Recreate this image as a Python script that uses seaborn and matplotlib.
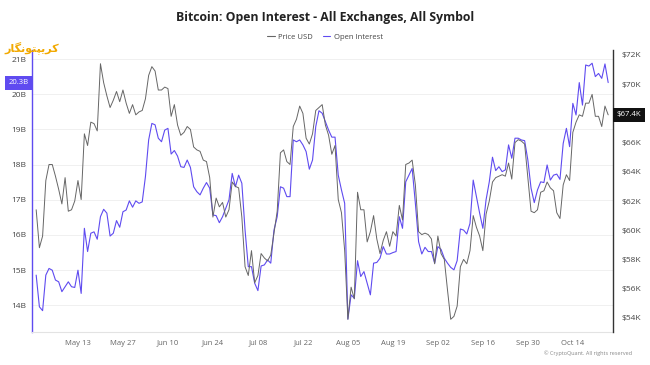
import pandas as pd
import matplotlib
matplotlib.use("Agg")
import matplotlib.pyplot as plt
from matplotlib.lines import Line2D
import seaborn as sns

# daily values from 2024-04-30
start_date = "2024-04-30"

price_usd_k = [
    61.4, 58.8, 59.6, 63.4, 64.5, 64.5, 63.7, 62.8, 61.8, 63.6,
    61.3, 61.4, 62.0, 63.4, 62.1, 66.6, 65.8, 67.4, 67.3, 66.8,
    71.4, 70.1, 69.2, 68.4, 68.9, 69.5, 68.8, 69.6, 68.7, 68.0,
    68.6, 67.9, 68.1, 68.2, 69.0, 70.6, 71.2, 70.9, 69.6, 69.6,
    69.8, 69.7, 67.8, 68.6, 67.2, 66.5, 66.7, 67.1, 66.9, 65.7,
    65.5, 65.4, 64.8, 64.7, 63.6, 60.9, 62.2, 61.6, 61.9, 60.9,
    61.4, 63.3, 63.0, 62.9, 60.9, 57.5, 56.9, 58.6, 56.4, 56.9,
    58.4, 58.1, 57.9, 58.3, 59.8, 61.3, 65.3, 65.5, 64.7, 64.5,
    67.1, 67.6, 68.5, 68.0, 66.3, 65.9, 66.6, 68.2, 68.4, 68.6,
    67.2, 66.5, 65.2, 65.8, 62.1, 61.2, 58.6, 53.9, 56.1, 55.3,
    62.6, 61.4, 61.4, 59.2, 59.9, 61.0, 59.4, 58.4, 59.3, 59.9,
    58.9, 59.9, 59.6, 61.7, 60.7, 64.5, 64.6, 64.8, 63.1, 59.9,
    59.7, 59.8, 59.7, 59.4, 57.7, 59.6, 58.4, 58.0, 55.9, 53.9,
    54.1, 54.8, 57.5, 58.0, 57.7, 58.6, 61.0, 60.2, 59.6, 58.6,
    61.1, 62.0, 63.3, 63.6, 63.7, 63.8, 63.7, 64.6, 63.5, 66.0,
    66.2, 66.1, 65.9, 63.6, 61.3, 61.2, 61.4, 62.6, 62.7, 63.3,
    62.9, 62.7, 61.2, 60.8, 63.1, 63.8, 63.4, 66.7, 67.4, 67.9,
    67.8, 68.7, 68.7, 69.3, 67.8, 67.8, 67.1, 68.5, 67.9,
]

open_interest_b = [
    14.86, 13.96, 13.85, 14.86, 15.05, 15.00, 14.72, 14.67, 14.39, 14.53,
    14.67, 14.53, 14.51, 15.00, 14.34, 16.19, 15.53, 16.05, 16.09, 15.88,
    16.52, 16.73, 16.62, 15.97, 16.05, 16.41, 16.22, 16.66, 16.71, 16.97,
    16.79, 16.97, 16.90, 16.94, 17.66, 18.70, 19.17, 19.13, 18.75, 18.65,
    18.98, 19.03, 18.30, 18.40, 18.24, 17.94, 17.92, 18.13, 17.92, 17.37,
    17.23, 17.14, 17.33, 17.49, 17.33, 16.57, 16.55, 16.35, 16.52, 16.76,
    17.00, 17.75, 17.37, 17.70, 17.47, 16.14, 15.10, 15.10, 14.63, 14.42,
    15.12, 15.15, 15.29, 15.20, 16.14, 16.52, 17.37, 17.33, 17.09, 17.09,
    18.70, 18.65, 18.70, 18.56, 18.37, 17.87, 18.13, 19.08, 19.53, 19.46,
    19.22, 18.98, 18.78, 18.78, 17.70, 17.28, 16.90, 13.61, 14.30, 14.20,
    15.27, 14.82, 14.96, 14.63, 14.30, 15.20, 15.22, 15.34, 15.67, 15.46,
    15.46, 15.50, 15.53, 16.52, 16.19, 17.51, 17.70, 17.89, 16.90, 15.81,
    15.46, 15.65, 15.53, 15.53, 15.20, 15.67, 15.59, 15.34, 15.20, 15.08,
    15.01, 15.27, 16.17, 16.14, 16.03, 16.33, 17.56, 17.09, 16.62, 16.19,
    17.00, 17.51, 18.21, 17.83, 17.94, 17.80, 17.85, 18.56, 18.18, 18.75,
    18.75, 18.70, 18.68, 18.13, 17.33, 16.92, 17.28, 17.51, 17.49, 17.99,
    17.56, 17.70, 17.73, 17.58, 18.60, 19.03, 18.51, 19.74, 19.41, 20.33,
    19.69, 20.83, 20.80, 20.88, 20.50, 20.59, 20.45, 20.86, 20.33,
]

oi_ticks = [14, 15, 16, 17, 18, 19, 20, 21]
price_ticks = [54, 56, 58, 60, 62, 64, 66, 68, 70, 72]
date_ticks = ["2024-05-13", "2024-05-27", "2024-06-10", "2024-06-24",
              "2024-07-08", "2024-07-22", "2024-08-05", "2024-08-19",
              "2024-09-02", "2024-09-16", "2024-09-30", "2024-10-14"]

title = "Bitcoin: Open Interest - All Exchanges, All Symbol"
price_tag = "$67.4K"
oi_tag = "20.3B"

BLUE = "#5f4bf0"
GRAY = "#666666"

sns.set_style("white")
plt.rcParams["font.family"] = ["Open Sans", "DejaVu Sans"]

dates = pd.date_range(start_date, periods=len(price_usd_k), freq="D")
df = pd.DataFrame({"date": dates, "price": price_usd_k, "oi": open_interest_b})

fig = plt.figure(figsize=(6.5, 3.65), dpi=100)
ax = fig.add_axes([32 / 650, 33 / 365, 581 / 650, 282 / 365])
ax2 = ax.twinx()

sns.lineplot(data=df, x="date", y="oi", ax=ax, color=BLUE, linewidth=0.8)
sns.lineplot(data=df, x="date", y="price", ax=ax2, color=GRAY, linewidth=0.7)

ax.set_xlim(dates[0] - pd.Timedelta(days=1.3), dates[0] + pd.Timedelta(days=179.5))
ax.set_ylim(13.244, 21.256)
ax2.set_ylim(53.03, 72.34)

ax.set_yticks(oi_ticks)
ax.set_yticklabels([f"{t}B" for t in oi_ticks])
ax2.set_yticks(price_ticks)
ax2.set_yticklabels([f"${t}K" for t in price_ticks])
xt = pd.to_datetime(date_ticks)
ax.set_xticks(xt)
ax.set_xticklabels([d.strftime("%b %d") for d in xt])

for a in (ax, ax2):
    a.set_xlabel("")
    a.set_ylabel("")

ax.yaxis.grid(True, color="#f0f0f0", linewidth=0.7)
ax.set_axisbelow(True)

for s in ("top", "right"):
    ax.spines[s].set_visible(False)
for s in ("top", "left", "bottom"):
    ax2.spines[s].set_visible(False)
ax.spines["left"].set_color(BLUE)
ax.spines["left"].set_linewidth(1.0)
ax.spines["bottom"].set_color("#e3e3e3")
ax.spines["bottom"].set_linewidth(0.8)
ax2.spines["right"].set_color("#333333")
ax2.spines["right"].set_linewidth(1.0)

ax.tick_params(axis="y", length=0, labelsize=6, labelcolor="#444444", pad=4)
ax2.tick_params(axis="y", length=0, labelsize=6, labelcolor="#444444", pad=6)
ax.tick_params(axis="x", length=3, width=0.6, color="#d8d8d8",
               labelsize=5.5, labelcolor="#666666", pad=2.5)

# end-value tags on both axes
ax.annotate(oi_tag, xy=(0, open_interest_b[-1]), xycoords=("axes fraction", "data"),
            xytext=(-2.5, 0), textcoords="offset points", ha="right", va="center",
            fontsize=5.6, color="white",
            bbox=dict(boxstyle="square,pad=0.45", fc=BLUE, ec="none"))
ax2.annotate(price_tag, xy=(1, price_usd_k[-1]), xycoords=("axes fraction", "data"),
             xytext=(2.5, 0), textcoords="offset points", ha="left", va="center",
             fontsize=5.6, color="white",
             bbox=dict(boxstyle="square,pad=0.45", fc="#111111", ec="none"))

fig.text(0.5, 1 - 18 / 365, title, ha="center", va="center",
         fontsize=8.8, fontweight="bold", color="#222222")

handles = [Line2D([], [], color=GRAY, lw=0.8), Line2D([], [], color=BLUE, lw=0.8)]
fig.legend(handles, ["Price USD", "Open Interest"], loc="center",
           bbox_to_anchor=(0.5, 1 - 37 / 365), ncol=2, frameon=False,
           fontsize=5.5, handlelength=1.0, handletextpad=0.4,
           columnspacing=1.3, labelcolor="#444444")

fig.text(632 / 650, 1 - 353 / 365, "© CryptoQuant. All rights reserved",
         ha="right", va="center", fontsize=4, color="#888888")

# watermark logo text (Persian, pre-shaped presentation forms)
logo = "\uFEAD\uFE8E\uFB95\uFEE7\uFEEE\uFE98\uFB59\uFBFE\uFEAE\uFB90"
fig.text(4 / 650, 1 - 48 / 365, logo, ha="left", va="center",
         fontsize=8, fontweight="bold", color="#f2a900", family=["DejaVu Sans"])

fig.savefig("out.png", dpi=100)
